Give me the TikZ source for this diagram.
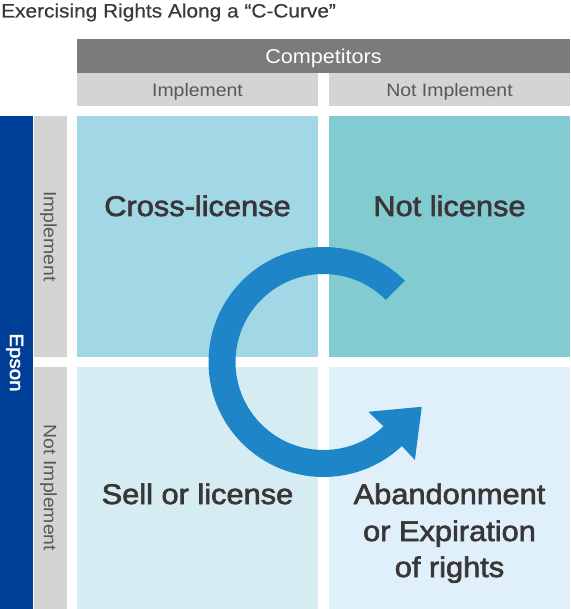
\documentclass[tikz,border=0pt]{standalone}
\usepackage{fontspec}
\setmainfont{Liberation Sans}[FakeStretch=1.08]
\newfontfamily\cellfont{Liberation Sans}[FakeStretch=1.08,FakeBold=2.2]
\newfontfamily\titlefont{Liberation Sans}[FakeStretch=1.08,FakeBold=0.6]
\definecolor{titlecol}{HTML}{3C3939}
\definecolor{compgray}{HTML}{7B7B7B}
\definecolor{hdrgray}{HTML}{D4D4D4}
\definecolor{hdrtext}{HTML}{585858}
\definecolor{epsonblue}{HTML}{003F98}
\definecolor{tlcol}{HTML}{A2D8E6}
\definecolor{trcol}{HTML}{82CBD1}
\definecolor{blcol}{HTML}{D5ECF3}
\definecolor{brcol}{HTML}{DFF0FA}
\definecolor{arrowcol}{HTML}{1E86C8}
\definecolor{celltext}{HTML}{3A3536}
\begin{document}
\begin{tikzpicture}[x=1pt,y=-1pt,
  panel/.style={draw=none,inner sep=0pt,outer sep=0pt},
  cellbox/.style={panel,minimum width=241pt,minimum height=241pt},
  lbl/.style={inner sep=0pt,text depth=0pt,anchor=center},
  hdrlbl/.style={lbl,text=hdrtext,font=\fontsize{18}{21}\selectfont},
  celllbl/.style={inner sep=0pt,anchor=base,text=celltext,font=\cellfont\fontsize{28.5}{34}\selectfont}]
\useasboundingbox (0,0) rectangle (570,609);
% title
\node[inner sep=0pt,anchor=base west,text=titlecol,font=\titlefont\fontsize{19.3}{23}\selectfont] (title) at (1,17.5) {Exercising Rights Along a “C-Curve”};
% headers
\node[panel,fill=compgray,minimum width=493pt,minimum height=34pt] (comp) at (323.5,56) {};
\node[lbl,text=white,font=\fontsize{20}{23}\selectfont] (compt) at (comp.center) {Competitors};
\node[panel,fill=hdrgray,minimum width=241pt,minimum height=33pt] (himp) at (197.5,89.5) {};
\node[hdrlbl] (himpt) at (himp.center) {Implement};
\node[panel,fill=hdrgray,minimum width=241pt,minimum height=33pt] (hnot) at (449.5,89.5) {};
\node[hdrlbl] (hnott) at (hnot.center) {Not Implement};
% left side
\node[panel,fill=epsonblue,minimum width=33pt,minimum height=493pt] (epson) at (16.5,362.5) {};
\node[lbl,rotate=-90,text=white,font=\cellfont\fontsize{19}{22}\selectfont] (epsont) at (epson.center) {Epson};
\node[panel,fill=hdrgray,minimum width=33pt,minimum height=241pt] (vimp) at (50.5,236.5) {};
\node[hdrlbl,rotate=-90] (vimpt) at (vimp.center) {Implement};
\node[panel,fill=hdrgray,minimum width=33pt,minimum height=242pt] (vnot) at (50.5,488) {};
\node[hdrlbl,rotate=-90] (vnott) at (vnot.center) {Not Implement};
% cells
\node[cellbox,fill=tlcol] (tl) at (197.5,236.5) {};
\node[cellbox,fill=trcol] (tr) at (449.5,236.5) {};
\node[cellbox,fill=blcol,minimum height=242pt] (bl) at (197.5,488) {};
\node[cellbox,fill=brcol,minimum height=242pt] (br) at (449.5,488) {};
% C-curve arrow
\coordinate (C) at (323.5,362);
\fill[arrowcol] ([shift={(45:115pt)}]C) arc[start angle=45,end angle=313,radius=115pt]
  -- ([shift={(-47:134pt)}]C) -- ([shift={(-24.5:108pt)}]C) -- ([shift={(-48:67pt)}]C)
  -- ([shift={(-47:88pt)}]C) arc[start angle=313,end angle=45,radius=88pt] -- cycle;
% cell labels
\node[celllbl] (tlt) at (197.5,216) {Cross-license};
\node[celllbl] (trt) at (449.5,216) {Not license};
\node[celllbl] (blt) at (197.5,504) {Sell or license};
\node[celllbl] (brt1) at (449.5,504) {Abandonment};
\node[celllbl] (brt2) at (449.5,541) {or Expiration};
\node[celllbl] (brt3) at (449.5,577) {of rights};
\end{tikzpicture}
\end{document}
